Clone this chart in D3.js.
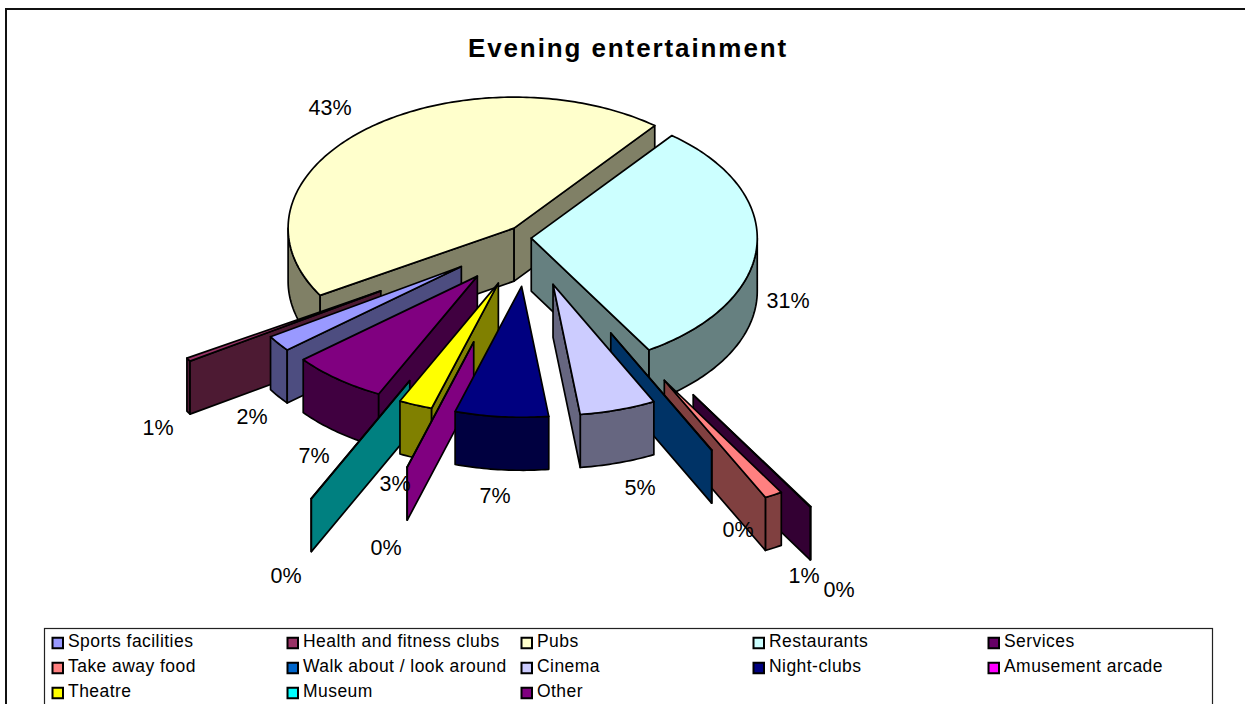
<!DOCTYPE html>
<html><head><meta charset="utf-8">
<script src="https://cdnjs.cloudflare.com/ajax/libs/d3/7.8.5/d3.min.js"></script>
<style>html,body{margin:0;padding:0;background:#fff;overflow:hidden}
text{font-family:"Liberation Sans",Arial,sans-serif;fill:#000}</style></head>
<body><svg id="c" width="1245" height="704"></svg>
<script>
const categories=["Sports facilities","Health and fitness clubs","Pubs","Restaurants","Services","Take away food","Walk about / look around","Cinema","Night-clubs","Amusement arcade","Theatre","Museum","Other"];
const shares=[2.0,0.42,44.27,30.6,0.05,1.28,0.02,5.44,6.67,0.02,2.4,0.02,6.81];
const explosion=[0.37,0.77,0.1,0.01,1.4,1.24,0.81,0.37,0.37,0.83,0.37,1.21,0.37];
const colors=["#9999FF","#993366","#FFFFCC","#CCFFFF","#660066","#FF8080","#0066CC","#CCCCFF","#000080","#FF00FF","#FFFF00","#00FFFF","#800080"];
const percentLabels=["2%","1%","43%","31%","0%","1%","0%","5%","7%","0%","3%","0%","7%"];
const labelPos=[[252,416],[158,427],[330,107],[788,300],[839,589],[804,575],[738,529],[640,487],[495,495],[386,547],[395,483],[286,575],[314,455]];

const svg=d3.select("#c");
svg.append("path").attr("d","M6,720V9H1245").attr("fill","none").attr("stroke","#111").attr("stroke-width",2);
svg.append("text").attr("x",628).attr("y",57).attr("text-anchor","middle").attr("font-size",26).attr("font-weight","bold").attr("letter-spacing",1.9).text("Evening entertainment");

const cx=529,cy=238,rx=226,ry=131,depth=53;
const pie=d3.pie().sort(null).startAngle(230.4*Math.PI/180).endAngle((230.4+360)*Math.PI/180);
const arcs=pie(shares).map((a,i)=>{
  const mid=(a.startAngle+a.endAngle)/2;
  const ox=cx+explosion[i]*rx*Math.sin(mid), oy=cy-explosion[i]*ry*Math.cos(mid);
  return {i,a0:a.startAngle,a1:a.endAngle,mid,ox,oy};
});
const norm=t=>t*180/Math.PI%360;
const pt=(d,t,dz=0)=>[d.ox+rx*Math.sin(t),d.oy-ry*Math.cos(t)+dz];
const line=d3.line();
const side=c=>{const r=d3.rgb(c);return d3.rgb(r.r/2,r.g/2,r.b/2).formatHex()};
const sample=(a,b)=>{const n=Math.max(2,Math.ceil(Math.abs(b-a)*60));return d3.range(n+1).map(k=>a+(b-a)*k/n)};
const order=arcs.slice().sort((p,q)=>Math.abs(norm(q.mid)-180)-Math.abs(norm(p.mid)-180));
const g=svg.append("g").attr("stroke","#000").attr("stroke-width",1.7).attr("stroke-linejoin","round");
const P=Math.PI;
order.forEach(d=>{
  const c=colors[d.i],s=side(c);
  const w=g.append("g");
  [[P/2,3*P/2],[P/2+2*P,3*P/2+2*P]].forEach(([lo,hi])=>{
    const a=Math.max(d.a0,lo),b=Math.min(d.a1,hi);
    if(b>a){
      const ts=sample(a,b);
      const pts=ts.map(t=>pt(d,t)).concat(ts.slice().reverse().map(t=>pt(d,t,depth)));
      w.append("path").attr("d",line(pts)+"Z").attr("fill",s);
    }
  });
  const wall=t=>w.append("path").attr("d",line([[d.ox,d.oy],pt(d,t),pt(d,t,depth),[d.ox,d.oy+depth]])+"Z").attr("fill",s);
  if(Math.sin(d.a0)<0) wall(d.a0);
  if(Math.sin(d.a1)>0) wall(d.a1);
  const pts=[[d.ox,d.oy]].concat(sample(d.a0,d.a1).map(t=>pt(d,t)));
  w.append("path").attr("d",line(pts)+"Z").attr("fill",c);
});
percentLabels.forEach((t,i)=>{
  svg.append("text").attr("x",labelPos[i][0]).attr("y",labelPos[i][1]+8).attr("text-anchor","middle").attr("font-size",21.5).text(t);
});
// legend
svg.append("rect").attr("x",44.5).attr("y",628.5).attr("width",1168).attr("height",90).attr("fill","#fff").attr("stroke","#222").attr("stroke-width",1.2);
const colX=d3.scaleOrdinal().domain([0,1,2,3,4]).range([68,303,537,769,1004]);
const rowY=d3.scaleOrdinal().domain([0,1,2]).range([641,666,691]);
categories.forEach((t,i)=>{
  const col=i%5,row=Math.floor(i/5);
  const x=colX(col),y=rowY(row);
  svg.append("rect").attr("x",x-15.5).attr("y",y-3.25).attr("width",10.5).attr("height",10.5).attr("fill",colors[i]).attr("stroke","#000").attr("stroke-width",2);
  svg.append("text").attr("x",x).attr("y",y+6).attr("font-size",17.5).attr("letter-spacing",0.45).text(t);
});
</script></body></html>
